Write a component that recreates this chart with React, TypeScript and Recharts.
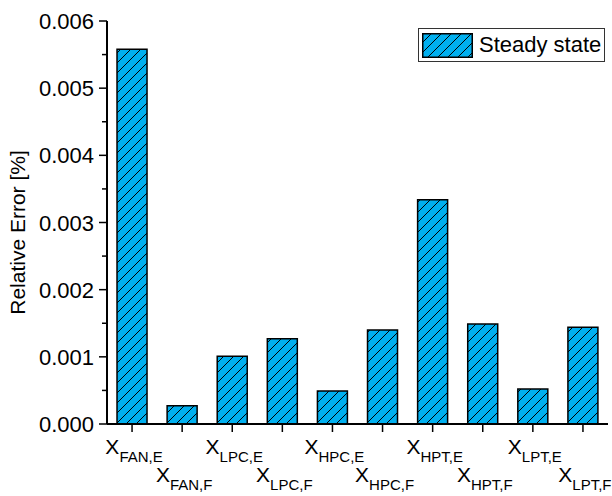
import React from "react";
import { BarChart, Bar, XAxis, YAxis, Legend } from "recharts";

const categories = ["FAN,E", "FAN,F", "LPC,E", "LPC,F", "HPC,E", "HPC,F", "HPT,E", "HPT,F", "LPT,E", "LPT,F"];
const steadyState = [0.00558, 0.00027, 0.00101, 0.00127, 0.00049, 0.0014, 0.00334, 0.00149, 0.00052, 0.00144];
const yTicks = [0, 0.0005, 0.001, 0.0015, 0.002, 0.0025, 0.003, 0.0035, 0.004, 0.0045, 0.005, 0.0055, 0.006];
const yLabels = ["0.000", "0.001", "0.002", "0.003", "0.004", "0.005", "0.006"];

const data = categories.map((name, i) => ({ name, value: steadyState[i] }));

const FONT = "'Liberation Sans', Arial, sans-serif";
const FILL = "#00AFEF";

const YTick = (props: any) => {
  const { x, y, index } = props;
  const major = index % 2 === 0;
  const axisX = x + 12;
  return (
    <g>
      <line x1={axisX - (major ? 8 : 5)} x2={axisX} y1={y} y2={y} stroke="#000" strokeWidth={1.5} />
      {major && (
        <text x={x - 1} y={y} dy={8} textAnchor="end" fontSize={22} fill="#000" fontFamily={FONT}>
          {yLabels[index / 2]}
        </text>
      )}
    </g>
  );
};

const XTick = (props: any) => {
  const { x, y, payload, index } = props;
  const lower = index % 2 === 1;
  return (
    <text x={x + 2} y={y + (lower ? 48 : 20)} textAnchor="middle" fill="#000" fontFamily={FONT}>
      <tspan fontSize={21}>X</tspan>
      <tspan fontSize={15} dy={8}>{payload.value}</tspan>
    </text>
  );
};

const Swatch = ({ w, h }: { w: number; h: number }) => (
  <svg width={w} height={h} style={{ display: "block" }}>
    <rect x={0.75} y={0.75} width={w - 1.5} height={h - 1.5} fill="url(#hatchLegend)" stroke="#000" strokeWidth={1.5} />
  </svg>
);

const LegendBox = () => (
  <div
    style={{
      display: "flex",
      alignItems: "center",
      border: "1.5px solid #333",
      padding: "3px 2px 3px 3px",
      background: "#fff",
      fontFamily: FONT,
      fontSize: 22,
      color: "#000",
      width: 187,
      boxSizing: "border-box",
    }}
  >
    <Swatch w={51} h={25} />
    <span style={{ marginLeft: 6, whiteSpace: "nowrap" }}>Steady state</span>
  </div>
);

export default function App() {
  return (
    <div style={{ position: "absolute", left: 0, top: 0, width: 612, height: 496, background: "#fff" }}>
      <svg width={0} height={0} style={{ position: "absolute" }}>
        <defs>
          <pattern id="hatchLegend" width={10} height={10} patternUnits="userSpaceOnUse">
            <rect width={10} height={10} fill={FILL} />
            <path d="M0,10 L10,0 M-2.5,2.5 L2.5,-2.5 M7.5,12.5 L12.5,7.5" stroke="#000" strokeWidth={1} />
          </pattern>
        </defs>
      </svg>
      <BarChart
        width={612}
        height={496}
        data={data}
        margin={{ top: 21, right: 4, left: 0, bottom: 12 }}
        barCategoryGap="20%"
        style={{ fontFamily: FONT }}
      >
        <defs>
          <pattern id="hatch" width={10} height={10} patternUnits="userSpaceOnUse">
            <rect width={10} height={10} fill={FILL} />
            <path d="M0,10 L10,0 M-2.5,2.5 L2.5,-2.5 M7.5,12.5 L12.5,7.5" stroke="#000" strokeWidth={1} />
          </pattern>
        </defs>
        <XAxis
          dataKey="name"
          interval={0}
          height={60}
          tickSize={8}
          tickLine={{ stroke: "#000", strokeWidth: 1.5 }}
          axisLine={{ stroke: "#000", strokeWidth: 2 }}
          tick={<XTick />}
        />
        <YAxis
          type="number"
          domain={[0, 0.006]}
          ticks={yTicks}
          interval={0}
          width={107}
          tickSize={8}
          tickMargin={4}
          tickLine={false}
          axisLine={{ stroke: "#000", strokeWidth: 2 }}
          tick={<YTick />}
          label={(p: any) => {
            const vb = p.viewBox;
            const cx = vb.x + 25;
            const cy = vb.y + vb.height / 2 + 10;
            return (
              <text
                x={cx}
                y={cy}
                transform={`rotate(-90, ${cx}, ${cy})`}
                textAnchor="middle"
                fontSize={21}
                fill="#000"
                fontFamily={FONT}
              >
                Relative Error [%]
              </text>
            );
          }}
        />
        <Legend
          verticalAlign="middle"
          align="center"
          layout="horizontal"
          content={() => <LegendBox />}
          wrapperStyle={{ position: "absolute", top: 28, left: 418, width: 187 }}
        />
        <Bar dataKey="value" fill="url(#hatch)" stroke="#000" strokeWidth={1.5} isAnimationActive={false} />
      </BarChart>
    </div>
  );
}
